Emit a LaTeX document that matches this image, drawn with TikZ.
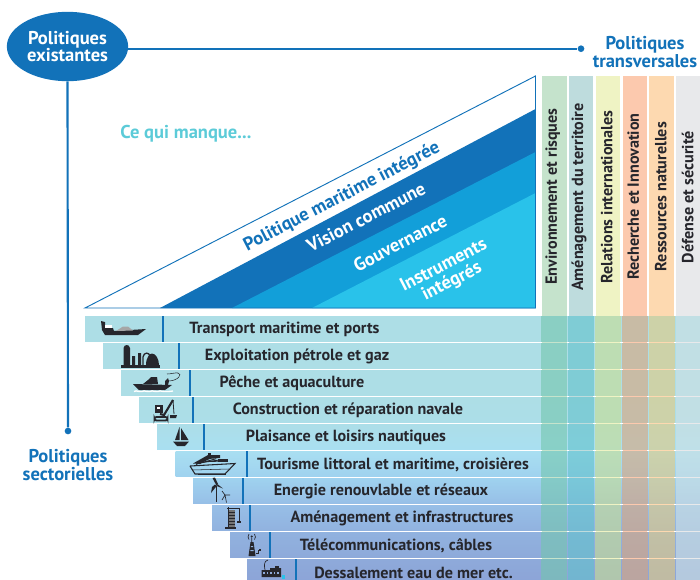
\documentclass[tikz,border=0pt]{standalone}
\usepackage{fontspec}
\usetikzlibrary{shapes.geometric}
\setmainfont{PT Sans}
\definecolor{mainblue}{HTML}{1272B9}
\definecolor{midblue}{HTML}{129FD9}
\definecolor{lightblue}{HTML}{29C2EA}
\definecolor{lackcolor}{HTML}{5CCBD8}
\definecolor{inkcolor}{HTML}{26262C}
\definecolor{stop1}{HTML}{ADDEE6}
\definecolor{stop2}{HTML}{ADDEE6}
\definecolor{stop3}{HTML}{ADDEE6}
\definecolor{stop4}{HTML}{ADDEE6}
\definecolor{stop5}{HTML}{ACDEE8}
\definecolor{stop6}{HTML}{A9DFF1}
\definecolor{stop7}{HTML}{9FD2EF}
\definecolor{stop8}{HTML}{97BFE7}
\definecolor{stop9}{HTML}{91B2DF}
\definecolor{stop10}{HTML}{8EAADA}
\definecolor{stop11}{HTML}{8CA3D7}
\definecolor{head1}{HTML}{C5E3CC}
\definecolor{head2}{HTML}{BEDCDD}
\definecolor{head3}{HTML}{EFF3C4}
\definecolor{head4}{HTML}{FCC9AE}
\definecolor{head5}{HTML}{FDD9B0}
\definecolor{head6}{HTML}{E8E9EB}
\definecolor{cell1}{HTML}{73C6AD}
\definecolor{cell2}{HTML}{61C1CB}
\definecolor{cell3}{HTML}{C8DD91}
\definecolor{cell4}{HTML}{DAA57B}
\definecolor{cell5}{HTML}{E3CA80}
\definecolor{cell6}{HTML}{CFE1E3}
\tikzset{
	link/.style={mainblue, line width=1.6pt},
	dot/.style={circle, fill=mainblue, inner sep=0pt, minimum size=5pt},
	bigtitle/.style={mainblue, inner sep=0pt, font=\fontsize{13.9}{13}\selectfont\bfseries, align=center},
	slanted/.style={rotate=27.3, inner sep=0pt, font=\fontsize{13.9}{13.5}\selectfont\bfseries, align=center},
	rowlabel/.style={inkcolor, inner sep=0pt, font=\fontsize{12.1}{12}\selectfont\bfseries},
	collabel/.style={rotate=90, inkcolor, inner sep=0pt, font=\fontsize{12.1}{12}\selectfont\bfseries},
	sep/.style={mainblue, line width=1.4pt},
	icon/.style={fill=inkcolor},
	iconline/.style={draw=inkcolor, line width=0.6pt}
}
\begin{document}
\begin{tikzpicture}[x=0.75pt,y=-0.75pt]
\useasboundingbox (0,0) rectangle (700,579);

% columns
\foreach \c/\cx in {1/542,2/568.5,3/595.5,4/622.5,5/649,6/676}
	\fill[head\c] (\cx,76) rectangle (\cx+24.5,579);

% triangle
\fill[white] (85,308) -- (535.5,76) -- (535.5,308) -- cycle;
\fill[mainblue] (160,308) -- (535.5,109) -- (535.5,308) -- cycle;
\fill[midblue] (232,308) -- (535.5,152) -- (535.5,308) -- cycle;
\fill[lightblue] (312,308) -- (535.5,193) -- (535.5,308) -- cycle;
\draw[mainblue, line width=0.7pt, line join=miter] (85,308) -- (535.5,76) -- (535.5,308) -- cycle;

\node (lack) at (186,133.5) [inner sep=0pt, font=\fontsize{13.9}{14}\selectfont\bfseries, lackcolor] {Ce qui manque...};
\node (maritime) at (342,197) [slanted, mainblue] {Politique maritime intégrée};
\node (vision) at (366,217) [slanted, white] {Vision commune};
\node (gouv) at (400,243) [slanted, white] {Gouvernance};
\node (instr) at (448,274) [slanted, white] {Instruments\\intégrés};

% rows
\foreach \i/\lft/\sx/\tx/\lab in {
	1/85/163/284.5/Transport maritime et ports,
	2/103/179/297/Exploitation pétrole et gaz,
	3/121/190/292/Pêche et aquaculture,
	4/139/193/348/Construction et réparation navale,
	5/157/204/346/Plaisance et loisirs nautiques,
	6/175.5/247/393/{Tourisme littoral et maritime, croisières},
	7/193/243/381/Energie renouvlable et réseaux,
	8/212/250/402/Aménagement et infrastructures,
	9/230/270/396/{Télécommunications, câbles},
	10/247/296/413.5/Dessalement eau de mer etc.}
{
	\pgfmathsetmacro{\ty}{316+27*(\i-1)}
	\pgfmathtruncatemacro{\j}{\i+1}
	\shade[top color=stop\i, bottom color=stop\j] (\lft,\ty) rectangle (700,\ty+25.5);
	\draw[sep] (\sx,\ty) -- (\sx,\ty+25.5);
	\node (row\i) at (\tx,\ty+13.7) [rowlabel] {\lab};
	\foreach \c/\cx/\cw in {1/541/26,2/568/26,3/595/26,4/622/26,5/649/26,6/676/24}
		\fill[cell\c, fill opacity=0.6] (\cx,\ty) rectangle (\cx+\cw,\ty+25.5);
}

% column titles
\node (env) at (552.7,196.5) [collabel] {Environnement et risques};
\node (amen) at (579,197) [collabel] {Aménagement du territoire};
\node (rel) at (606.7,197) [collabel] {Relations internationales};
\node (rech) at (633.3,196.5) [collabel] {Recherche et Innovation};
\node (ress) at (660.7,196.5) [collabel] {Ressources naturelles};
\node (def) at (687.7,197) [collabel] {Défense et sécurité};

% policies
\node (exist) at (67.5,46.5) [ellipse, fill=mainblue, minimum width=91pt, minimum height=52pt, inner sep=0pt, text=white, font=\fontsize{13.9}{13}\selectfont\bfseries, align=center] {Politiques\\existantes};
\node (dotT) at (581,48.7) [dot] {};
\node (dotS) at (68,431) [dot] {};
\draw[link] (dotT -| exist.east) -- (dotT);
\draw[link] (exist.south) -- (dotS);
\node (transv) at (645,52) [bigtitle] {Politiques\\transversales};
\node (sector) at (68,465) [bigtitle] {Politiques\\sectorielles};

% tanker
\fill[icon] (101,321) -- (105,322) -- (105,328) -- (113,328) -- (114,331) -- (146,329) -- (138,335) -- (105,335) -- (102,330) -- cycle;
\fill[white] (105,325) rectangle (112,327.5);
\fill[black!35] (116,331) -- (123,326.5) -- (128,326.5) -- (133,330.5) -- cycle;

% oil plant
\fill[icon] (121,364.5) rectangle (160,367.5);
\fill[icon] (123.5,365) -- (123.5,348) .. controls (124,344) and (129.5,344) .. (130,348) -- (130,365) -- cycle;
\fill[icon] (132,356) rectangle (135,365) (138,353) rectangle (141,365);
\draw[iconline, line width=1pt] (143,365) -- (143,357) .. controls (144,352) and (149,352) .. (150,356);
\fill[icon] (146,365) .. controls (146,357) and (150,353.5) .. (152,353.5) .. controls (155,353.5) and (159,358) .. (159,365) -- cycle;

% fishing boat
\fill[icon] (133,384) -- (172,385) -- (165,390) -- (139,390) -- cycle;
\fill[icon] (143,384) -- (148,380) -- (151,377) -- (157,377) -- (158,384) -- cycle;
\fill[icon] (165,385) -- (165,381) -- (168,378) -- (169,381) -- (168,385) -- cycle;
\draw[iconline, line width=0.4pt] (168,381) .. controls (178,381) and (183,374) .. (178,373) .. controls (175,372.5) and (171,374) .. (167,374);
\draw[white, line width=1pt] (134,391.5) .. controls (137,389.5) and (139,393) .. (142,391.5) .. controls (145,389.5) and (147,393) .. (150,391.5) .. controls (153,389.5) and (155,393) .. (158,391.5) .. controls (161,389.5) and (163,393) .. (166,391.5) .. controls (168,390) and (170,393) .. (173,391);

% excavator
\fill[icon] (155,405) rectangle (163,413);
\fill[white] (156.5,406.5) rectangle (160,409);
\draw[iconline, line width=1.4pt, rounded corners=1.5pt] (154.5,417) rectangle (167.5,420.5);
\draw[iconline, line width=1.6pt] (160,414) -- (164,415) -- (173,400);
\draw[iconline] (173,400) -- (174,414);
\fill[icon] (170,415) -- (177,415) -- (176,418) -- (170,418) -- cycle;

% sailboat
\fill[icon] (179.5,427) -- (175,440) -- (179.5,440) -- cycle;
\fill[icon] (181,428) -- (188.5,440) -- (181,440) -- cycle;
\fill[icon] (173,441.5) -- (189,441.5) -- (185,446) -- (177,446) -- cycle;

% cruise ship
\draw[iconline, line width=0.8pt] (190,466) -- (235,463.5) -- (225,474) -- (195,474) -- (190,466);
\draw[iconline, line width=0.4pt] (192,470) -- (229,469);
\fill[icon] (193,463.5) -- (208,455) -- (220,455) -- (220,458) -- (208,459) -- (200,464) -- cycle;
\foreach \s in {0,1,2,3}
	\draw[inkcolor, line width=0.7pt] (196+\s*3,464.5-\s) -- (212+\s*4,457.5+\s*1.2);
\fill[icon] (208,452.5) rectangle (211,455);
\fill[icon] (218,459) rectangle (228,462);
\draw[iconline] (198,474.5) -- (226,474.5);

% wind turbines
\draw[iconline, line width=1.1pt] (216.7,486) -- (216.7,502);
\fill[icon] (216.7,486) -- (212.5,478) -- (215,477.5) -- (218,484) -- cycle;
\fill[icon] (216.7,486) -- (211,493) -- (212,487) -- (215,484.5) -- cycle;
\fill[icon] (216.7,486) -- (223,488.5) -- (218,484.5) -- cycle;
\draw[iconline, line width=0.5pt] (225,495) -- (226.5,502.5) (225,495) -- (222,491) (225,495) -- (230,495) (225,495) -- (222,500);

% building and crane
\fill[black!55] (228.5,510) rectangle (235,527);
\foreach \s in {512,515,518,521,524}
	\draw[inkcolor, line width=0.5pt] (228.5,\s) -- (235,\s);
\draw[iconline, line width=1.2pt] (228.5,507) -- (228.5,527);
\draw[iconline] (227,508.5) -- (240,508.5) (239.5,508.5) -- (239.5,521);
\fill[icon] (225,527) rectangle (235.5,529);
\fill[icon] (236.5,521) rectangle (241,523);

% telecom tower
\fill[icon] (250.5,542) -- (253.5,542) -- (255.5,556) -- (248.5,556) -- cycle;
\fill[stop9] (250.8,546) rectangle (253.2,547) (250.3,550) rectangle (253.7,551);
\fill[icon] (251.7,536.5) circle[radius=1.2];
\draw[iconline, line width=0.5pt] (251.7,538) -- (251.7,542) (249,534) .. controls (247.5,536) and (248,538) .. (249,539.5) (254.5,534) .. controls (256,536) and (255.5,538) .. (254.5,539.5);
\draw[iconline, line width=0.5pt] (255.5,553.5) -- (258,553.5) -- (258,550.5) -- (260,550.5);
\fill[icon] (259,549) rectangle (261,551);

% desalination plant
\fill[icon] (261.5,570) -- (270,570) -- (270,568) -- (281,568) -- (281,577) -- (261.5,577) -- cycle;
\foreach \s in {263,266.5,270,273.5,277}
	\fill[stop10] (\s,572) rectangle (\s+1.8,574);
\draw[iconline, line width=0.5pt] (265,570) .. controls (264,565) and (264,561) .. (268,560);
\fill[icon] (275,566) rectangle (279,568);
\fill[lightblue] (282,574.5) rectangle (285,579);
\end{tikzpicture}
\end{document}
